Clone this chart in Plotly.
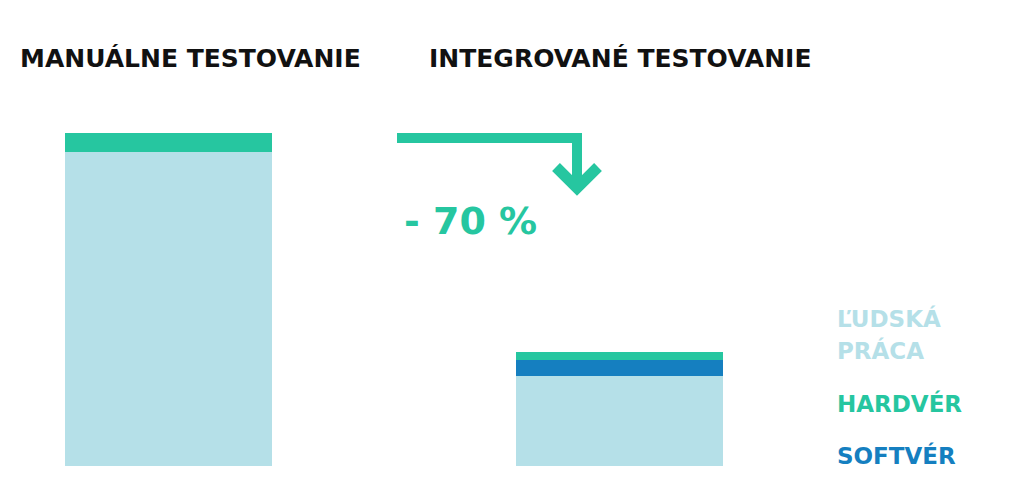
import plotly.graph_objects as go

categories = ["MANUÁLNE TESTOVANIE", "INTEGROVANÉ TESTOVANIE"]
ludska_praca = [94.3, 27.0]
softver = [0.0, 4.8]
hardver = [5.7, 2.4]
reduction_label = "- 70 %"
legend_labels = ["ĽUDSKÁ", "PRÁCA", "HARDVÉR", "SOFTVÉR"]

LIGHT = "#b5e0e8"
GREEN = "#26c6a0"
BLUE = "#157fc0"
FONT = "DejaVu Sans"

W, H = 1024, 502

fig = go.Figure()
bar_w = 0.4595
for vals, col, name in [(ludska_praca, LIGHT, "Ľudská práca"),
                        (softver, BLUE, "Softvér"),
                        (hardver, GREEN, "Hardvér")]:
    fig.add_trace(go.Bar(x=[0, 1], y=vals, marker=dict(color=col, line=dict(width=0)),
                         width=bar_w, name=name, showlegend=False, hoverinfo="y+name"))

# axis mapping: bar centers at px 168.5 and 619
sx = 619 - 168.5
x0 = -168.5 / sx
x1 = (W - 168.5) / sx
sy = (466 - 133) / 100.0
y0 = -(H - 466) / sy
y1 = 466 / sy

def px(x):
    return x / W

def py(y):
    return 1 - y / H

annotations = []
annotations.append(dict(text="<b>" + categories[0] + "</b>", x=px(18), y=py(58), xref="paper", yref="paper",
                        xanchor="left", yanchor="middle", showarrow=False,
                        font=dict(family=FONT, size=25, color="#111111")))
annotations.append(dict(text="<b>" + categories[1] + "</b>", x=px(427), y=py(58), xref="paper", yref="paper",
                        xanchor="left", yanchor="middle", showarrow=False,
                        font=dict(family=FONT, size=25, color="#111111")))
annotations.append(dict(text="<b>" + reduction_label + "</b>", x=px(402), y=py(221), xref="paper", yref="paper",
                        xanchor="left", yanchor="middle", showarrow=False,
                        font=dict(family=FONT, size=38, color=GREEN)))
leg_cols = [LIGHT, LIGHT, GREEN, BLUE]
leg_y = [318, 350, 403, 455]
for lab, col, yy in zip(legend_labels, leg_cols, leg_y):
    annotations.append(dict(text="<b>" + lab + "</b>", x=px(835), y=py(yy),
                            xref="paper", yref="paper", xanchor="left", yanchor="middle",
                            align="left", showarrow=False,
                            font=dict(family=FONT, size=23, color=col)))

shapes = [
    dict(type="path", xref="paper", yref="paper",
         path=f"M {px(397)},{py(138)} L {px(577)},{py(138)} L {px(577)},{py(186)}",
         line=dict(color=GREEN, width=10), fillcolor="rgba(0,0,0,0)"),
    dict(type="path", xref="paper", yref="paper",
         path=f"M {px(556)},{py(167)} L {px(577)},{py(188)} L {px(598)},{py(167)}",
         line=dict(color=GREEN, width=11), fillcolor="rgba(0,0,0,0)"),
]

fig.update_layout(
    width=W, height=H, barmode="stack",
    margin=dict(l=0, r=0, t=0, b=0),
    paper_bgcolor="white", plot_bgcolor="white",
    xaxis=dict(range=[x0, x1], visible=False, fixedrange=True),
    yaxis=dict(range=[y0, y1], visible=False, fixedrange=True),
    annotations=annotations, shapes=shapes,
)
fig.write_html("out.html", config={"displayModeBar": False},
               post_script="document.body.style.margin='0';document.body.style.overflow='hidden';")
